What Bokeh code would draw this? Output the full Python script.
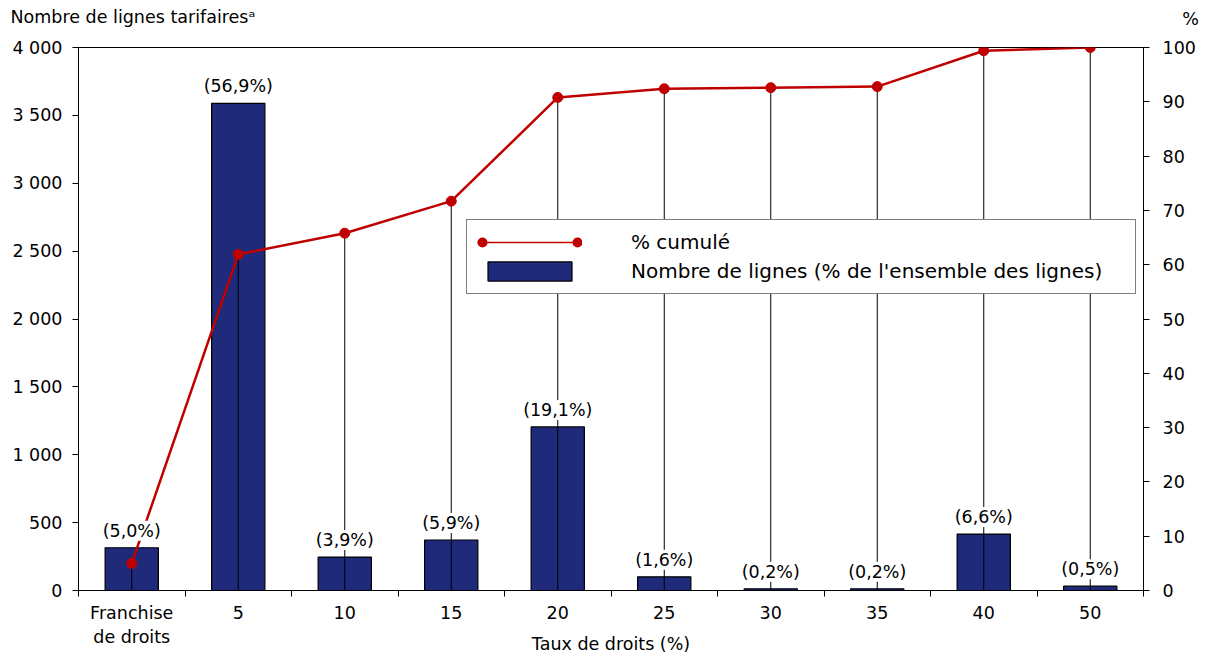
from bokeh.plotting import figure
from bokeh.models import (ColumnDataSource, LinearAxis, Range1d, FixedTicker,
                          Legend, LegendItem, LabelSet, Label)
from bokeh.core.properties import value
from bokeh.embed import file_html
from bokeh.resources import INLINE

# ---- data ----
categories = ["Franchise\nde droits", "5", "10", "15", "20", "25", "30", "35", "40", "50"]
line_counts = [315, 3589, 246, 372, 1205, 101, 13, 13, 416, 32]
share_pct = [5.0, 56.9, 3.9, 5.9, 19.1, 1.6, 0.2, 0.2, 6.6, 0.5]
cumul_pct = [5.0, 61.9, 65.8, 71.7, 90.8, 92.4, 92.6, 92.8, 99.4, 100.0]
left_ticks = [0, 500, 1000, 1500, 2000, 2500, 3000, 3500, 4000]
right_ticks = [0, 10, 20, 30, 40, 50, 60, 70, 80, 90, 100]

FONT = "DejaVu Sans"
NAVY = "#1F2A7A"
RED = "#C00000"

xs = list(range(len(categories)))
labels = ["(" + f"{s:.1f}".replace(".", ",") + "%)" for s in share_pct]
src = ColumnDataSource(dict(x=xs, count=line_counts, cum=cumul_pct, label=labels))

p = figure(width=1206, height=656, output_backend="svg", toolbar_location=None,
           x_range=Range1d(-0.5, len(categories) - 0.5), y_range=Range1d(0, 4000),
           min_border_left=78, min_border_right=63, min_border_top=47, min_border_bottom=65)
p.extra_y_ranges = {"pct": Range1d(0, 100), "legend_only": Range1d(-300, -200)}
p.xgrid.visible = False
p.ygrid.visible = False
p.outline_line_color = "black"
p.outline_line_width = 1
p.background_fill_color = "white"
p.border_fill_color = "white"

bars = p.vbar(x="x", top="count", width=0.5, source=src, fill_color=NAVY,
              line_color="black", line_width=1.2)
p.segment(x0="x", y0=0, x1="x", y1="cum", source=src, y_range_name="pct",
          line_color="black", line_width=1)
ln = p.line(x="x", y="cum", source=src, y_range_name="pct", line_color=RED, line_width=2.5)
dots = p.scatter(x="x", y="cum", source=src, y_range_name="pct", marker="circle",
                 size=10, fill_color=RED, line_color=RED)

lbl = LabelSet(x="x", y="count", text="label", source=src, y_offset=7,
               text_align="center", text_baseline="bottom",
               text_font=value(FONT), text_font_size=value("17.5px"), text_color="black",
               background_fill_color="white")
p.add_layout(lbl)

# legend sample glyphs: same series mapped onto a range that keeps them out of the frame
leg_line = p.line(x="x", y="cum", source=src, y_range_name="legend_only",
                  line_color=RED, line_width=1.5)
leg_dots = p.line(x="x", y="cum", source=src, y_range_name="legend_only",
                  line_color=RED, line_width=10, line_dash="0 95", line_dash_offset=90,
                  line_cap="round")

# axes
def style_axis(ax):
    ax.axis_line_color = "black"
    ax.axis_line_width = 1
    ax.major_label_text_font = FONT
    ax.major_label_text_font_size = "17.5px"
    ax.major_label_text_color = "black"
    ax.major_tick_line_color = "black"
    ax.major_tick_in = 0
    ax.major_tick_out = 6
    ax.minor_tick_line_color = None

ya = p.yaxis[0]
ya.ticker = FixedTicker(ticks=left_ticks)
ya.major_label_overrides = {t: f"{t:,}".replace(",", " ") for t in left_ticks}
style_axis(ya)
ya.major_label_standoff = 10

ra = LinearAxis(y_range_name="pct", ticker=FixedTicker(ticks=right_ticks))
style_axis(ra)
ra.major_label_standoff = 13
p.add_layout(ra, "right")

xa = p.xaxis[0]
xa.ticker = FixedTicker(ticks=xs, minor_ticks=[i - 0.5 for i in range(len(categories) + 1)])
xa.major_label_overrides = {i: c for i, c in enumerate(categories)}
style_axis(xa)
xa.major_tick_line_color = None
xa.minor_tick_line_color = "black"
xa.minor_tick_in = 0
xa.minor_tick_out = 6
xa.major_label_standoff = 6
xa.axis_label = "Taux de droits (%)"
xa.axis_label_text_font = FONT
xa.axis_label_text_font_size = "17.5px"
xa.axis_label_text_font_style = "normal"
xa.axis_label_text_color = "black"
xa.axis_label_standoff = -16

# titles
p.title.text = "Nombre de lignes tarifairesᵃ"
p.title.align = "left"
p.title.offset = -68
p.title.standoff = 1
p.title.text_font = FONT
p.title.text_font_size = "17.5px"
p.title.text_font_style = "normal"
p.title.text_color = "black"

pct_lbl = Label(x=1112, y=29, x_units="screen", y_units="screen", text="%",
                text_font=FONT, text_font_size="17.5px", text_color="black",
                text_align="center", text_baseline="middle")
p.add_layout(pct_lbl, "above")

legend = Legend(items=[LegendItem(label="% cumulé", renderers=[leg_line, leg_dots]),
                       LegendItem(label="Nombre de lignes (% de l'ensemble des lignes)", renderers=[bars])],
                location=(388, 296), orientation="vertical",
                border_line_color="black", border_line_width=1,
                background_fill_color="white", background_fill_alpha=1,
                padding=10, spacing=5, margin=0,
                glyph_width=105, glyph_height=24, label_standoff=49, label_width=494,
                label_text_font=FONT, label_text_font_size="20px", label_text_color="black")
p.add_layout(legend)

open("out.html", "w").write(file_html(p, INLINE))
